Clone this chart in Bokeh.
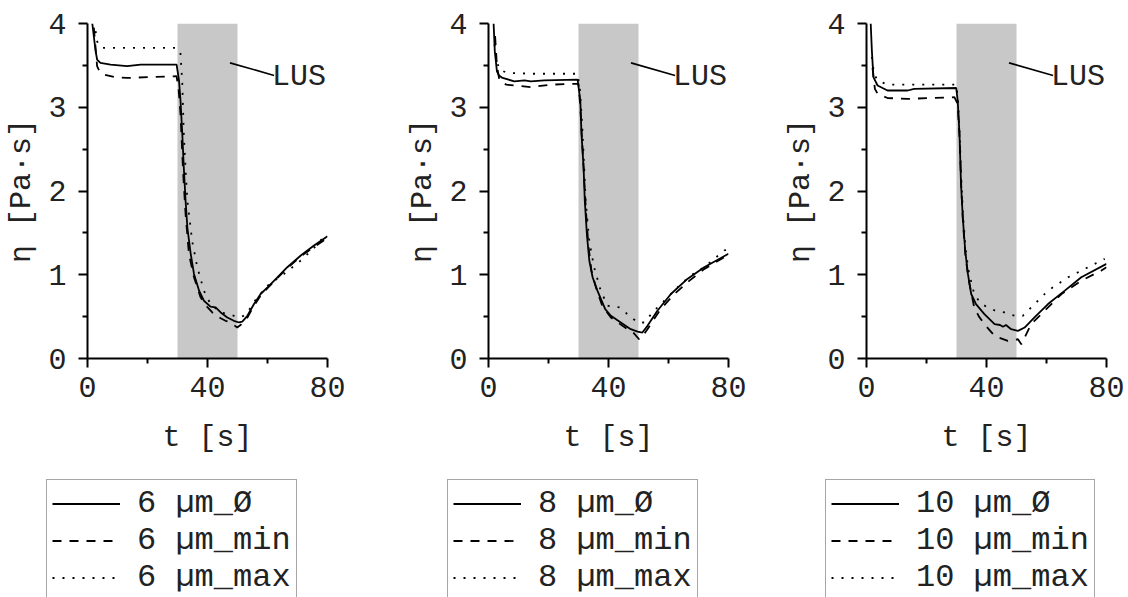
from bokeh.plotting import figure
from bokeh.layouts import row, column
from bokeh.models import Range1d, FixedTicker, BoxAnnotation, Legend, LegendItem, Label
from bokeh.embed import file_html
from bokeh.resources import INLINE

# ---------------- data ----------------
SIZES = ["6", "8", "10"]
SERIES_SUFFIX = ["Ø", "min", "max"]
LUS_START = 30
LUS_END = 50
LUS_TEXT = "LUS"
X_TICKS = [0, 40, 80]
X_MINOR = [20, 60]
Y_TICKS = [0, 1, 2, 3, 4]
Y_MINOR = [0.5, 1.5, 2.5, 3.5]

# 6 µm
T6_AVG = [1.6, 2.7, 3.2, 4.3, 7.7, 13.2, 17.7, 29.7, 30.5, 31.0, 31.6, 32.1, 32.7, 33.3, 34.4, 35.5, 37.2, 38.8,
          41.0, 42.7, 44.4, 46.6, 48.8, 50.5, 51.6, 53.3, 55.5, 57.7, 60.0, 63.3, 66.6, 71.1, 75.5, 80.0]
E6_AVG = [4.0, 3.67, 3.57, 3.53, 3.51, 3.49, 3.51, 3.51, 3.32, 3.08, 2.68, 2.28, 1.88, 1.56, 1.25, 1.01, 0.81, 0.69,
          0.62, 0.61, 0.55, 0.49, 0.45, 0.43, 0.44, 0.51, 0.65, 0.77, 0.85, 0.97, 1.09, 1.23, 1.35, 1.46]
T6_MIN = [2.1, 2.6, 3.2, 4.0, 5.4, 9.0, 13.2, 21.0, 29.7, 30.4, 31.0, 31.9, 32.7, 33.8, 35.5, 37.7, 39.5, 41.6,
          44.4, 46.0, 47.7, 49.9, 51.0, 53.3, 55.5, 57.7, 60.0, 63.3, 66.6, 71.1, 75.5, 80.0]
E6_MIN = [3.95, 3.75, 3.49, 3.43, 3.39, 3.36, 3.35, 3.36, 3.37, 3.20, 2.92, 2.20, 1.72, 1.25, 0.97, 0.73, 0.63, 0.55,
          0.48, 0.45, 0.43, 0.37, 0.40, 0.49, 0.63, 0.75, 0.84, 0.96, 1.08, 1.22, 1.33, 1.44]
T6_MAX = [2.7, 3.2, 3.8, 5.0, 15.0, 29.7, 30.5, 31.0, 31.6, 32.1, 32.7, 33.3, 34.9, 36.6, 38.8, 41.0, 44.4, 48.8,
          50.5, 52.0, 53.3, 56.0, 60.0, 65.5, 71.1, 75.5, 79.4]
E6_MAX = [3.91, 3.79, 3.73, 3.71, 3.71, 3.71, 3.68, 3.64, 3.28, 2.68, 2.25, 1.88, 1.40, 1.09, 0.81, 0.65, 0.55, 0.51,
          0.49, 0.51, 0.55, 0.70, 0.87, 1.01, 1.17, 1.32, 1.48]

# 8 µm
T8_AVG = [1.7, 2.1, 2.8, 3.5, 4.7, 8.6, 12.0, 14.1, 18.6, 29.7, 30.6, 31.0, 31.7, 32.1, 32.8, 33.6, 34.7, 36.3,
          38.9, 40.8, 44.1, 47.4, 49.7, 51.3, 53.0, 56.3, 60.8, 66.3, 71.9, 80.0]
E8_AVG = [4.0, 3.67, 3.43, 3.38, 3.35, 3.31, 3.32, 3.31, 3.32, 3.33, 3.08, 2.68, 2.28, 1.88, 1.48, 1.17, 0.97, 0.81,
          0.59, 0.51, 0.43, 0.35, 0.32, 0.31, 0.39, 0.57, 0.77, 0.95, 1.09, 1.25]
T8_MIN = [2.2, 2.8, 3.5, 4.1, 6.0, 8.6, 14.1, 20.8, 29.1, 30.0, 30.6, 31.2, 31.8, 32.5, 33.3, 34.3, 35.8, 38.0,
          40.8, 43.5, 46.3, 48.5, 50.2, 51.2, 53.0, 57.4, 62.0, 67.0, 72.0, 80.0]
E8_MIN = [3.85, 3.50, 3.35, 3.30, 3.27, 3.26, 3.24, 3.27, 3.28, 3.28, 3.00, 2.60, 2.20, 1.75, 1.35, 1.05, 0.85, 0.62,
          0.49, 0.42, 0.35, 0.30, 0.23, 0.26, 0.35, 0.59, 0.77, 0.93, 1.07, 1.24]
T8_MAX = [2.0, 2.8, 3.6, 6.3, 15.0, 29.7, 30.5, 31.2, 31.8, 32.4, 33.6, 35.2, 37.4, 39.7, 41.5, 43.6, 46.3, 49.7,
          51.9, 55.2, 58.6, 63.0, 67.4, 71.9, 78.6, 80.0]
E8_MAX = [3.75, 3.55, 3.45, 3.41, 3.40, 3.40, 3.20, 2.80, 2.35, 1.88, 1.40, 1.09, 0.81, 0.63, 0.62, 0.61, 0.53, 0.43,
          0.43, 0.57, 0.69, 0.85, 0.99, 1.09, 1.29, 1.31]

# 10 µm
T10_AVG = [1.4, 1.8, 2.3, 3.7, 7.0, 13.7, 15.9, 29.9, 30.4, 31.0, 31.5, 32.1, 32.9, 33.8, 34.9, 36.5, 39.3, 42.7,
           44.5, 45.5, 46.5, 48.2, 50.5, 52.7, 56.0, 60.5, 66.1, 71.6, 80.0]
E10_AVG = [4.0, 3.67, 3.36, 3.26, 3.20, 3.20, 3.22, 3.23, 3.08, 2.68, 2.08, 1.68, 1.29, 1.01, 0.77, 0.65, 0.53, 0.41,
           0.40, 0.38, 0.40, 0.35, 0.33, 0.37, 0.49, 0.65, 0.81, 0.97, 1.13]
T10_MIN = [2.0, 2.8, 3.7, 7.0, 13.7, 29.3, 30.4, 31.0, 31.6, 32.2, 33.0, 34.0, 35.9, 37.5, 39.3, 42.7, 47.1, 50.5,
           51.6, 54.9, 59.4, 65.0, 71.6, 78.3, 80.0]
E10_MIN = [3.47, 3.22, 3.16, 3.11, 3.10, 3.12, 3.04, 2.65, 2.05, 1.60, 1.22, 0.95, 0.61, 0.50, 0.41, 0.27, 0.21, 0.23,
           0.17, 0.41, 0.57, 0.77, 0.93, 1.05, 1.09]
T10_MAX = [1.8, 2.5, 3.7, 7.0, 15.0, 29.9, 30.5, 31.0, 31.6, 32.2, 33.0, 34.0, 35.9, 38.0, 40.4, 43.0, 46.0, 49.4,
           52.1, 54.9, 60.5, 67.2, 73.9, 79.4]
E10_MAX = [3.60, 3.40, 3.32, 3.27, 3.27, 3.27, 3.10, 2.72, 2.15, 1.70, 1.32, 1.05, 0.77, 0.66, 0.61, 0.57, 0.55, 0.51,
           0.51, 0.61, 0.81, 0.97, 1.09, 1.19]

PANELS = [
    (SIZES[0], [(T6_AVG, E6_AVG), (T6_MIN, E6_MIN), (T6_MAX, E6_MAX)]),
    (SIZES[1], [(T8_AVG, E8_AVG), (T8_MIN, E8_MIN), (T8_MAX, E8_MAX)]),
    (SIZES[2], [(T10_AVG, E10_AVG), (T10_MIN, E10_MIN), (T10_MAX, E10_MAX)]),
]

# ---------------- styling ----------------
FONT = "Liberation Mono"
FS = "30px"
LEG_FS = "32px"
DASHES = ["solid", "9 8", "2 8"]
LAYOUT = [(401, 87, 74), (378, 87, 51), (349, 87, 22)]
PLOT_H = 470
LEG_H = 597 - PLOT_H


def style_line_kw(dash):
    return dict(line_color="black", line_width=1.8, line_dash=dash)


def make_panel(size, series, width, bl, br):
    p = figure(width=width, height=PLOT_H, x_range=Range1d(0, 80), y_range=Range1d(0, 4),
               output_backend="svg", toolbar_location=None, frame_align=False,
               min_border_left=bl, min_border_right=br, min_border_top=23,
               min_border_bottom=PLOT_H - 358)
    p.outline_line_color = None
    p.grid.visible = False
    p.background_fill_color = "white"
    p.border_fill_color = "white"

    p.add_layout(BoxAnnotation(left=LUS_START, right=LUS_END, fill_color="#c8c8c8", fill_alpha=1.0,
                               line_color=None, level="underlay"))

    for (t, e), dash in zip(series, DASHES):
        p.line(t, e, **style_line_kw(dash))

    # LUS marker
    p.line([47.5, 62.2], [3.53, 3.38], line_color="black", line_width=1.6)
    p.add_layout(Label(x=62.2, y=3.365, text=LUS_TEXT, x_offset=-2, text_font=FONT, text_font_size=FS,
                       text_baseline="alphabetic", text_align="left", text_color="#222222"))

    for ax in (p.xaxis[0], p.yaxis[0]):
        ax.axis_line_width = 2
        ax.axis_line_color = "black"
        ax.major_tick_line_width = 2
        ax.minor_tick_line_width = 2
        ax.major_tick_in = 0
        ax.major_tick_out = 9
        ax.minor_tick_in = 0
        ax.minor_tick_out = 5
        ax.major_label_text_font = FONT
        ax.major_label_text_font_size = FS
        ax.major_label_text_color = "#222222"
        ax.axis_label_text_font = FONT
        ax.axis_label_text_font_size = FS
        ax.axis_label_text_font_style = "normal"
        ax.axis_label_text_color = "#222222"

    p.xaxis.ticker = FixedTicker(ticks=X_TICKS, minor_ticks=X_MINOR)
    p.yaxis.ticker = FixedTicker(ticks=Y_TICKS, minor_ticks=Y_MINOR)
    p.xaxis.axis_label = "t [s]"
    p.yaxis.axis_label = "η [Pa·s]"
    p.xaxis.major_label_standoff = 9
    p.yaxis.major_label_standoff = 12
    p.xaxis.axis_label_standoff = 21
    p.yaxis.axis_label_standoff = 6

    # legend panel (same series, drawn outside its view so only the legend shows)
    lf = figure(width=width, height=LEG_H, x_range=Range1d(-20, -10), y_range=Range1d(-20, -10),
                output_backend="svg", toolbar_location=None, frame_align=False,
                x_axis_location=None, y_axis_location=None, min_border=0)
    lf.outline_line_color = None
    lf.grid.visible = False
    lf.border_fill_color = "white"
    lf.background_fill_color = "white"
    lrs = [lf.line(t, e, **style_line_kw(dash)) for (t, e), dash in zip(series, DASHES)]
    items = [LegendItem(label=f"{size} µm_{suf}", renderers=[r]) for suf, r in zip(SERIES_SUFFIX, lrs)]
    legend = Legend(items=items, location=(46, -5), padding=5, spacing=0, margin=0,
                    glyph_width=68, glyph_height=37, label_height=37, label_standoff=17,
                    label_text_font=FONT, label_text_font_size=LEG_FS, label_text_color="#222222",
                    border_line_color="#4d4d4d", border_line_width=1,
                    background_fill_color="white", background_fill_alpha=1.0)
    lf.add_layout(legend, "center")
    return column(p, lf)


cols = []
for (size, series), (w, bl, br) in zip(PANELS, LAYOUT):
    cols.append(make_panel(size, series, w, bl, br))

layout = row(*cols)
open("out.html", "w").write(file_html(layout, INLINE))
